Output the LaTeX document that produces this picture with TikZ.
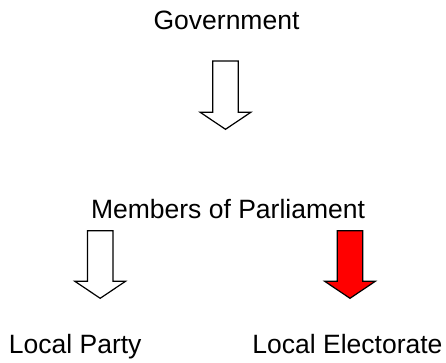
\documentclass[tikz,border=0pt]{standalone}
\usepackage{fontspec}
\setmainfont{Liberation Sans}
\usetikzlibrary{calc}
\tikzset{
  lbl/.style={anchor=base, inner sep=0pt, font=\fontsize{26.5}{30}\selectfont},
  hollowarrow/.style={draw=black, line width=1.2pt, fill=white, line join=miter},
  redarrow/.style={draw=black, line width=1.2pt, fill=red, line join=miter}
}
\newcommand\blockarrow[3]{%
  \draw[#1] ($(#2)+(-12.8,0)$) -- ($(#3)+(-12.8,-17)$) -- ($(#3)+(-25.3,-17)$) -- (#3)
    -- ($(#3)+(25.3,-17)$) -- ($(#3)+(12.8,-17)$) -- ($(#2)+(12.8,0)$) -- cycle;}
\begin{document}
\begin{tikzpicture}[x=1pt,y=-1pt]
  \useasboundingbox[fill=white] (0,0) rectangle (446,362);
  \node[lbl] (gov) at (226.5,29.3) {Government};
  \node[lbl] (mps) at (228,218.3) {Members of Parliament};
  \node[lbl] (party) at (75.2,353.5) {Local Party};
  \node[lbl] (elect) at (347.5,353.5) {Local Electorate};
  \coordinate (gtop) at (225.5,61);
  \coordinate (gtip) at (225.5,129.3);
  \coordinate (ptop) at (100.2,230.7);
  \coordinate (ptip) at (100.2,298.3);
  \coordinate (etop) at (350,230.7);
  \coordinate (etip) at (350,298.3);
  \blockarrow{hollowarrow}{gtop}{gtip}
  \blockarrow{hollowarrow}{ptop}{ptip}
  \blockarrow{redarrow}{etop}{etip}
\end{tikzpicture}
\end{document}
